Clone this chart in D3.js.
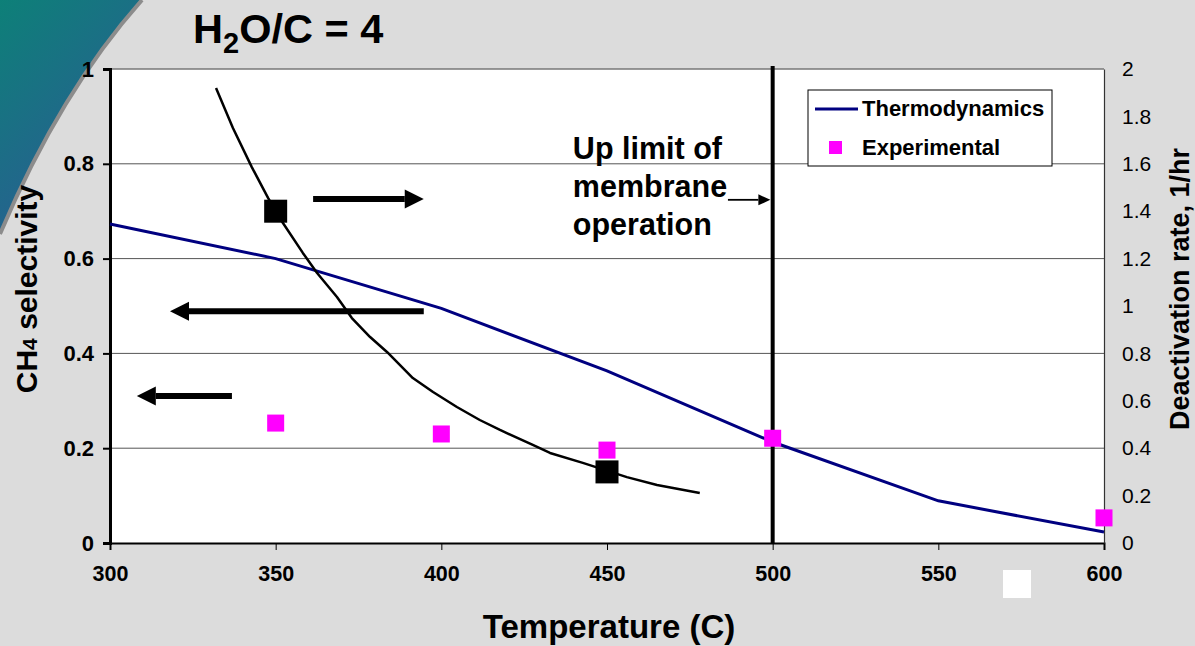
<!DOCTYPE html>
<html>
<head>
<meta charset="utf-8">
<script src="https://cdn.jsdelivr.net/npm/d3@7"></script>
<style>
  html, body { margin: 0; padding: 0; background: #dcdcdc; }
  svg { display: block; font-family: "Liberation Sans", Arial, sans-serif; }
</style>
</head>
<body>
<svg id="chart" width="1195" height="646"></svg>
<script>
// ---- data ----
const xTicks = [300, 350, 400, 450, 500, 550, 600];
const leftTicks = [0, 0.2, 0.4, 0.6, 0.8, 1];
const leftTickLabels = ["0", "0.2", "0.4", "0.6", "0.8", "1"];
const rightTicks = [0, 0.2, 0.4, 0.6, 0.8, 1, 1.2, 1.4, 1.6, 1.8, 2];
const rightTickLabels = ["0", "0.2", "0.4", "0.6", "0.8", "1", "1.2", "1.4", "1.6", "1.8", "2"];

const thermoTemp = [300, 350, 400, 450, 500, 550, 600];
const thermoSel = [0.673, 0.600, 0.495, 0.363, 0.213, 0.089, 0.023];

const expTemp = [350, 400, 450, 500, 600];
const expSel = [0.253, 0.230, 0.196, 0.221, 0.053];

const deactTemp = [332.0, 337.1, 342.8, 347.7, 352.2, 358.2, 362.5, 368.5, 373.0, 378.5, 383.6, 391.4, 397.5, 404.7, 411.6, 417.7, 427.6, 432.8, 442.7, 456.0, 465.1, 478.0];
const deactRate = [1.920, 1.751, 1.586, 1.456, 1.350, 1.224, 1.139, 1.038, 0.949, 0.869, 0.806, 0.696, 0.637, 0.574, 0.519, 0.477, 0.414, 0.380, 0.338, 0.278, 0.245, 0.211];

const markTemp = [350, 450];
const markRate = [1.40, 0.30];

const membraneLimit = 500;

// ---- layout ----
const svg = d3.select("#chart");
const L = 110, R = 1104, T = 69, B = 543;
const x = d3.scaleLinear().domain([300, 600]).range([L, R]);
const yL = d3.scaleLinear().domain([0, 1]).range([B, T]);
const yR = d3.scaleLinear().domain([0, 2]).range([B, T]);
const FONT = "'Liberation Sans', Arial, sans-serif";

// decoration: teal swoosh top-left
const defs = svg.append("defs");
const grad = defs.append("linearGradient").attr("id", "teal")
  .attr("x1", "0").attr("y1", "0").attr("x2", "0.6").attr("y2", "1");
grad.append("stop").attr("offset", "0%").attr("stop-color", "#0d8078");
grad.append("stop").attr("offset", "100%").attr("stop-color", "#2c5a95");
svg.append("path").attr("d", "M0,0 L142,0 Q60,92 0,234 Z").attr("fill", "url(#teal)");
svg.append("path").attr("d", "M142,0 Q60,92 0,234").attr("fill", "none")
  .attr("stroke", "#8c8c8c").attr("stroke-width", 4);

// plot area
svg.append("rect").attr("x", L).attr("y", T).attr("width", R - L).attr("height", B - T).attr("fill", "#fff");

// gridlines
svg.append("g").selectAll("line").data(leftTicks.filter(d => d > 0 && d < 1)).join("line")
  .attr("x1", L).attr("x2", R).attr("y1", d => yL(d)).attr("y2", d => yL(d))
  .attr("stroke", "#555").attr("stroke-width", 1);
svg.append("line").attr("x1", L).attr("x2", R).attr("y1", T).attr("y2", T)
  .attr("stroke", "#777").attr("stroke-width", 1.5);

// left axis
const gL = svg.append("g").attr("transform", `translate(${L},0)`)
  .call(d3.axisLeft(yL).tickValues(leftTicks).tickFormat((d, i) => leftTickLabels[i]).tickSize(7).tickPadding(9));
gL.select(".domain").attr("stroke", "#000").attr("stroke-width", 3);
gL.selectAll(".tick line").attr("stroke", "#000").attr("stroke-width", 2);
gL.selectAll(".tick text").attr("font-size", 22).attr("font-weight", "bold").attr("fill", "#000")
  .attr("font-family", FONT);

// bottom axis
const gB = svg.append("g").attr("transform", `translate(0,${B})`)
  .call(d3.axisBottom(x).tickValues(xTicks).tickSize(7).tickPadding(16));
gB.select(".domain").attr("stroke", "#000").attr("stroke-width", 2);
gB.selectAll(".tick line").attr("stroke", "#000").attr("stroke-width", 1);
gB.selectAll(".tick text").attr("font-size", 21.5).attr("font-weight", "bold").attr("fill", "#000")
  .attr("font-family", FONT);

// right axis
const gR = svg.append("g").attr("transform", `translate(${R},0)`)
  .call(d3.axisRight(yR).tickValues(rightTicks).tickFormat((d, i) => rightTickLabels[i]).tickSize(0).tickPadding(18));
gR.select(".domain").attr("stroke", "#333").attr("stroke-width", 1.2);
gR.selectAll(".tick text").attr("font-size", 21).attr("fill", "#000")
  .attr("font-family", FONT);

// thermodynamics line
const thermo = thermoTemp.map((t, i) => [t, thermoSel[i]]);
svg.append("path").datum(thermo)
  .attr("d", d3.line().x(d => x(d[0])).y(d => yL(d[1])))
  .attr("fill", "none").attr("stroke", "#000080").attr("stroke-width", 3);

// deactivation curve
const deact = deactTemp.map((t, i) => [t, deactRate[i]]);
svg.append("path").datum(deact)
  .attr("d", d3.line().x(d => x(d[0])).y(d => yR(d[1])))
  .attr("fill", "none").attr("stroke", "#000").attr("stroke-width", 2.5).attr("stroke-linejoin", "round");

// membrane limit vertical line
svg.append("line").attr("x1", x(membraneLimit)).attr("x2", x(membraneLimit))
  .attr("y1", T - 3).attr("y2", B).attr("stroke", "#000").attr("stroke-width", 4);

// experimental points
const es = 17;
svg.append("g").selectAll("rect").data(expTemp.map((t, i) => [t, expSel[i]])).join("rect")
  .attr("x", d => x(d[0]) - es / 2).attr("y", d => yL(d[1]) - es / 2)
  .attr("width", es).attr("height", es).attr("fill", "#ff00ff");

// black marker squares on deactivation curve
const ms = 23;
svg.append("g").selectAll("rect").data(markTemp.map((t, i) => [t, markRate[i]])).join("rect")
  .attr("x", d => x(d[0]) - ms / 2).attr("y", d => yR(d[1]) - ms / 2)
  .attr("width", ms).attr("height", ms).attr("fill", "#000");

// arrows (annotation)
function arrow(t0, t1, v, sw, hl, hw) {
  const x0 = x(t0), x1 = x(t1), yy = yL(v);
  const dir = Math.sign(x1 - x0);
  svg.append("line").attr("x1", x0).attr("x2", x1 - dir * hl).attr("y1", yy).attr("y2", yy)
    .attr("stroke", "#000").attr("stroke-width", sw);
  svg.append("polygon")
    .attr("points", `${x1},${yy} ${x1 - dir * hl},${yy - hw / 2} ${x1 - dir * hl},${yy + hw / 2}`)
    .attr("fill", "#000");
}
arrow(361.3, 394.7, 0.726, 6, 19, 19);
arrow(394.7, 318.1, 0.489, 6, 19, 19);
arrow(336.8, 308.1, 0.310, 6, 19, 19);
arrow(486.5, 499.3, 0.724, 1.8, 12, 11);

// annotation text
const ann = svg.append("text").attr("x", x(439.7)).attr("font-size", 30.5).attr("font-weight", "bold").attr("fill", "#000");
["Up limit of", "membrane", "operation"].forEach((s, i) => {
  ann.append("tspan").attr("x", x(439.7)).attr("y", 159 + i * 38).text(s);
});

// legend
const lg = svg.append("g");
lg.append("rect").attr("x", 808).attr("y", 90).attr("width", 244).attr("height", 76)
  .attr("fill", "#fff").attr("stroke", "#000").attr("stroke-width", 1);
lg.append("line").attr("x1", 815).attr("x2", 858).attr("y1", 109).attr("y2", 109)
  .attr("stroke", "#000080").attr("stroke-width", 3);
lg.append("text").attr("x", 862).attr("y", 116).attr("font-size", 22).attr("font-weight", "bold").text("Thermodynamics");
lg.append("rect").attr("x", 829).attr("y", 141).attr("width", 13).attr("height", 13).attr("fill", "#ff00ff");
lg.append("text").attr("x", 862).attr("y", 155).attr("font-size", 22).attr("font-weight", "bold").text("Experimental");

// title
const title = svg.append("text").attr("x", 193).attr("y", 43).attr("font-size", 41.5).attr("font-weight", "bold").attr("fill", "#000");
title.append("tspan").text("H");
title.append("tspan").attr("font-size", 29).attr("dy", 10).text("2");
title.append("tspan").attr("dy", -10).text("O/C = 4");

// axis titles
svg.append("text").attr("x", 609).attr("y", 638).attr("text-anchor", "middle")
  .attr("font-size", 33).attr("font-weight", "bold").text("Temperature (C)");

const yl = svg.append("text").attr("transform", "translate(37,289) rotate(-90)").attr("text-anchor", "middle")
  .attr("font-size", 30).attr("font-weight", "bold");
yl.append("tspan").text("CH");
yl.append("tspan").attr("font-size", 21).text("4");
yl.append("tspan").text(" selectivity");

svg.append("text").attr("transform", "translate(1189,289) rotate(-90)").attr("text-anchor", "middle")
  .attr("font-size", 27).attr("font-weight", "bold").text("Deactivation rate, 1/hr");

// white square artifact
svg.append("rect").attr("x", 1003).attr("y", 570).attr("width", 28).attr("height", 28).attr("fill", "#fff");
</script>
</body>
</html>
